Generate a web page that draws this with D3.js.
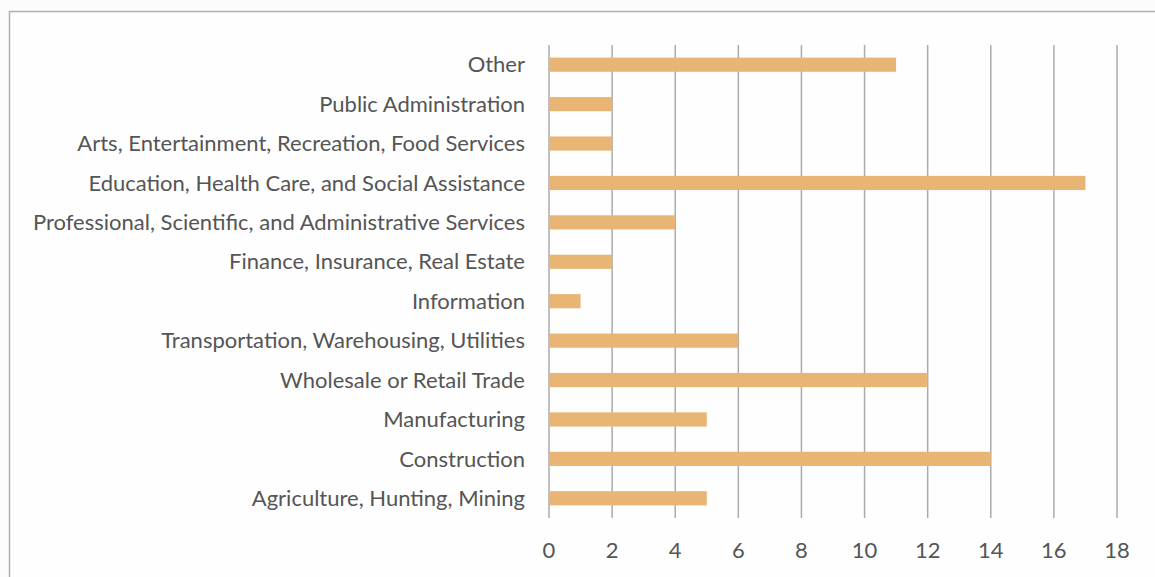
<!DOCTYPE html>
<html><head><meta charset="utf-8">
<script src="https://cdn.jsdelivr.net/npm/d3@7"></script>
<style>body{margin:0;background:#fcfcfc;}svg{display:block;}</style>
</head><body>
<svg id="c" width="1155" height="577"></svg>
<script>
const categories = ["Other","Public Administration","Arts, Entertainment, Recreation, Food Services","Education, Health Care, and Social Assistance","Professional, Scientific, and Administrative Services","Finance, Insurance, Real Estate","Information","Transportation, Warehousing, Utilities","Wholesale or Retail Trade","Manufacturing","Construction","Agriculture, Hunting, Mining"];
const values = [11,2,2,17,4,2,1,6,12,5,14,5];
const xTicks = [0,2,4,6,8,10,12,14,16,18];

const svg = d3.select("#c");
svg.append("rect").attr("x",9.5).attr("y",11.5).attr("width",1160).attr("height",580)
  .attr("fill","#fefefe").attr("stroke","#b0b0b0").attr("stroke-width",1.5);

const x = d3.scaleLinear().domain([0,18]).range([549,1117]);
const y = d3.scaleBand().domain(categories).range([45,518]).paddingInner(0.64).paddingOuter(0.32);

const g = svg.append("g");
g.selectAll("line.grid").data(xTicks).join("line").attr("class","grid")
  .attr("x1",d=>x(d)).attr("x2",d=>x(d)).attr("y1",45).attr("y2",518)
  .attr("stroke","#ababab").attr("stroke-width",1.5);

g.selectAll("rect.bar").data(values).join("rect").attr("class","bar")
  .attr("x",x(0)).attr("y",(d,i)=>y(categories[i]))
  .attr("width",d=>x(d)-x(0)).attr("height",y.bandwidth())
  .attr("fill","#e9b574");

const font = "Lato, 'Open Sans', sans-serif";
g.selectAll("text.cat").data(categories).join("text").attr("class","cat")
  .attr("x",525).attr("y",d=>y(d)+y.bandwidth()/2).attr("dy","0.35em")
  .attr("text-anchor","end").attr("font-family",font).attr("font-size",22)
  .attr("fill","#555").text(d=>d);

g.selectAll("text.tick").data(xTicks).join("text").attr("class","tick")
  .attr("x",d=>x(d)).attr("y",550).attr("dy","0.35em")
  .attr("text-anchor","middle").attr("font-family",font).attr("font-size",22)
  .attr("fill","#555").text(d=>d);
</script>
</body></html>
